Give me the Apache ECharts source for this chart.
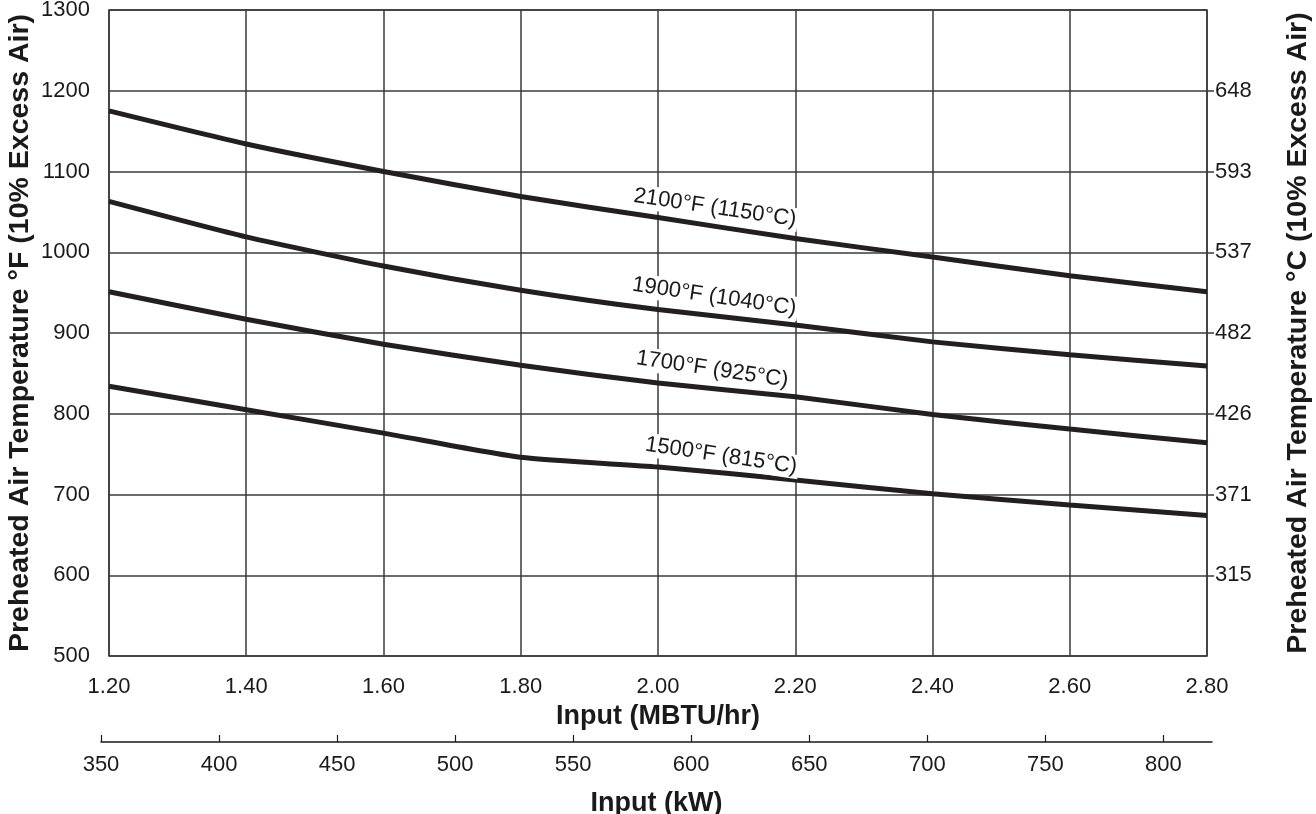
<!DOCTYPE html>
<html lang="en">
<head>
    <meta charset="UTF-8">
    <title>Preheated Air Temperature</title>
    <script src="https://cdn.jsdelivr.net/npm/echarts@6/dist/echarts.min.js"></script>
    <style>
        html, body { margin: 0; padding: 0; background: #fff; }
        #chart { width: 1316px; height: 814px; }
    </style>
</head>
<body>
<div id="chart"></div>
<script>
    // input in MBTU/hr
    var inputs = [1.20, 1.40, 1.60, 1.80, 2.00, 2.20, 2.40, 2.60, 2.80];
    // preheated air temperature (°F) for each furnace temperature
    var curve2100 = [1175, 1134, 1100, 1069, 1043, 1017, 994, 971, 951];
    var curve1900 = [1063, 1019, 983, 953, 929, 910, 889, 873, 859];
    var curve1700 = [951, 917, 886, 860, 838, 821, 799, 781, 764];
    var curve1500 = [834, 805, 776, 746, 734, 718, 701, 687, 674];
    var curveNames = ['2100°F (1150°C)', '1900°F (1040°C)', '1700°F (925°C)', '1500°F (815°C)'];
    // where each curve name sits [MBTU/hr, °F]
    var labelPoints = [[2.083, 1055], [2.082, 945], [2.079, 855], [2.092, 748]];
    // right axis: °F position -> °C label
    var fTicks = [600, 700, 800, 900, 1000, 1100, 1200];
    var cLabels = ['315', '371', '426', '482', '537', '593', '648'];
    var kwTicks = [350, 400, 450, 500, 550, 600, 650, 700, 750, 800];

    var font = "'Liberation Sans', Arial, Helvetica, sans-serif";
    var ink = '#1a1a1a';
    var gridCol = '#3a3a3a';

    function pairs(ys) {
        return inputs.map(function (x, i) { return [x, ys[i]]; });
    }
    function curve(ys) {
        return {
            type: 'line', xAxisIndex: 0, yAxisIndex: 0,
            data: pairs(ys), smooth: 0.2, symbol: 'none', z: 5,
            lineStyle: { width: 5, color: '#231f20' }
        };
    }

    var myChart = echarts.init(document.getElementById('chart'));
    myChart.setOption({
        animation: false,
        textStyle: { fontFamily: font },
        grid: [
            { left: 109, right: 109, top: 10, bottom: 158, show: true, borderColor: gridCol, borderWidth: 1.5,
              containLabel: false, outerBoundsMode: 'none' },
            { left: 101, right: 104, bottom: 72, height: 10, containLabel: false, outerBoundsMode: 'none' }
        ],
        xAxis: [{
            type: 'value', gridIndex: 0, min: 1.2, max: 2.8, interval: 0.2,
            name: 'Input (MBTU/hr)', nameLocation: 'middle', nameGap: 42,
            nameTextStyle: { fontFamily: font, fontSize: 27, fontWeight: 'bold', color: ink },
            axisLine: { show: false }, axisTick: { show: false },
            axisLabel: { margin: 20, fontSize: 22, color: ink, fontFamily: font,
                formatter: function (v) { return v.toFixed(2); } },
            splitLine: { show: true, lineStyle: { color: gridCol, width: 1.5 } }
        }, {
            type: 'value', gridIndex: 1, min: 350, max: 820.6,
            name: 'Input (kW)', nameLocation: 'middle', nameGap: 48,
            nameTextStyle: { fontFamily: font, fontSize: 27, fontWeight: 'bold', color: ink },
            axisLine: { show: true, lineStyle: { color: ink, width: 1.5 } },
            axisTick: { show: true, inside: true, length: 7, customValues: kwTicks, lineStyle: { color: ink, width: 1.2 } },
            axisLabel: { margin: 12, fontSize: 22, color: ink, fontFamily: font, customValues: kwTicks },
            splitLine: { show: false }
        }],
        yAxis: [{
            type: 'value', gridIndex: 0, min: 500, max: 1300, interval: 100,
            name: 'Preheated Air Temperature °F (10% Excess Air)', nameLocation: 'middle', nameGap: 74, nameRotate: 90,
            nameMoveOverlap: false,
            nameTextStyle: { fontFamily: font, fontSize: 28.5, fontWeight: 'bold', color: ink },
            axisLine: { show: false }, axisTick: { show: false },
            axisLabel: { margin: 19, fontSize: 22, color: ink, fontFamily: font,
                formatter: function (v) { return String(v); } },
            splitLine: { show: true, lineStyle: { color: gridCol, width: 1.5 } }
        }, {
            type: 'value', gridIndex: 0, position: 'right', min: 500, max: 1300,
            name: 'Preheated Air Temperature °C (10% Excess Air)', nameLocation: 'middle', nameGap: 77, nameRotate: 90,
            nameMoveOverlap: false,
            nameTextStyle: { fontFamily: font, fontSize: 28.5, fontWeight: 'bold', color: ink },
            axisLine: { show: false },
            axisTick: { show: true, length: 7, customValues: fTicks, lineStyle: { color: gridCol, width: 1.5 } },
            axisLabel: { margin: 8, fontSize: 22, color: ink, fontFamily: font, customValues: fTicks,
                formatter: function (v) { var i = fTicks.indexOf(Math.round(v)); return i >= 0 ? cLabels[i] : ''; } },
            splitLine: { show: false }
        }, {
            type: 'value', gridIndex: 1, show: false
        }],
        series: [
            curve(curve2100), curve(curve1900), curve(curve1700), curve(curve1500),
            {
                type: 'scatter', xAxisIndex: 0, yAxisIndex: 0, symbolSize: 0, z: 6,
                data: labelPoints.map(function (p, i) { return { value: p, name: curveNames[i] }; }),
                label: {
                    show: true, position: 'inside', rotate: -8.5,
                    formatter: function (p) { return p.name; },
                    fontFamily: font, fontSize: 22, color: ink,
                    textBorderWidth: 0, opacity: 1,
                    backgroundColor: '#fff', padding: [1, 2]
                },
                emphasis: { disabled: true }
            }
        ]
    });
</script>
</body>
</html>
